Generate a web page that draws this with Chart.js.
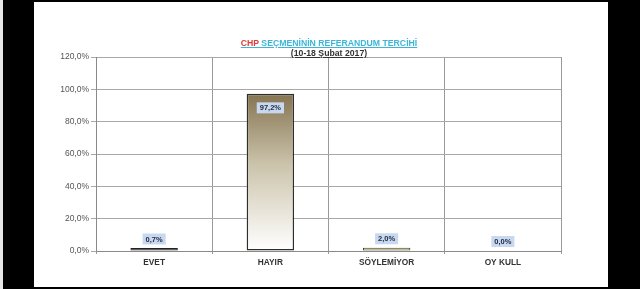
<!DOCTYPE html>
<html>
<head>
<meta charset="utf-8">
<script src="https://cdn.jsdelivr.net/npm/chart.js@4.4.0/dist/chart.umd.min.js"></script>
<style>
  html, body { margin: 0; padding: 0; background: #000; width: 640px; height: 289px; overflow: hidden; }
  #edge { position: absolute; left: 0; top: 0; width: 3px; height: 289px; background: #e8e8e8; }
  #panel { position: absolute; left: 34px; top: 2px; width: 574px; height: 285px; background: #fff; }
  #panel canvas { position: absolute; left: 0; top: 0; }
  .title { position: absolute; left: 0; width: 590px; text-align: center; font-family: "Liberation Sans", Arial, sans-serif; font-weight: bold; text-decoration: underline; white-space: nowrap; }
  #t1 { top: 36px; font-size: 8.7px; color: #3cb6d8; }
  #t1 .red { color: #e03a3c; }
  #t2 { top: 46px; font-size: 8.7px; color: #333; }
</style>
</head>
<body>
<div id="edge"></div>
<div id="panel">
  <canvas id="chartCanvas" width="574" height="285"></canvas>
  <div class="title" id="t1"><span class="red">CHP</span> SEÇMENİNİN REFERANDUM TERCİHİ</div>
  <div class="title" id="t2">(10-18 Şubat 2017)</div>
</div>
<script>
// Chart data
const categories = ['EVET', 'HAYIR', 'SÖYLEMİYOR', 'OY KULL'];
const values = [0.7, 97.2, 2.0, 0.0];
const yTicks = [0, 20, 40, 60, 80, 100, 120];

function pct(v) {
    return v.toFixed(1).replace('.', ',') + '%';
}

// HAYIR bar gets a gradient from olive at the top to white at the bottom
const gradientPlugin = {
    id: 'hayirGradient',
    beforeDatasetsDraw(chart) {
        const bar = chart.getDatasetMeta(0).data[1];
        const g = chart.ctx.createLinearGradient(0, bar.y, 0, bar.base);
        g.addColorStop(0, '#857451');
        g.addColorStop(0.45, '#cbc3ab');
        g.addColorStop(1, '#ffffff');
        bar.options.backgroundColor = g;
    }
};

// Data labels with pale blue box
const labelPlugin = {
    id: 'valueLabels',
    afterDatasetsDraw(chart) {
        const ctx = chart.ctx;
        const meta = chart.getDatasetMeta(0);
        const area = chart.chartArea;
        ctx.save();
        ctx.font = 'bold 7.5px "Liberation Sans", Arial, sans-serif';
        ctx.textAlign = 'center';
        ctx.textBaseline = 'middle';
        meta.data.forEach((bar, i) => {
            const text = pct(values[i]);
            let cy = Math.min(bar.y, bar.base) - 9;
            if (cy < area.top + 30) cy = bar.y + 14;
            if (values[i] === 0) cy = bar.base - 9;
            const w = ctx.measureText(text).width + 6;
            const h = 11;
            ctx.fillStyle = '#c8d9ef';
            ctx.fillRect(bar.x - w / 2, cy - h / 2, w, h);
            ctx.fillStyle = '#1f2740';
            ctx.fillText(text, bar.x, cy + 0.5);
        });
        ctx.restore();
    }
};

const ctx = document.getElementById('chartCanvas').getContext('2d');
const chart = new Chart(ctx, {
    type: 'bar',
    data: {
        labels: categories,
        datasets: [{
            data: values,
            backgroundColor: ['#333333', '#857451', '#ece4a6', 'rgba(0,0,0,0)'],
            borderColor: ['#222222', '#2e2e2e', '#3a3a2a', 'rgba(0,0,0,0)'],
            borderWidth: [1, 1.5, 1, 0],
            borderSkipped: false,
            minBarLength: 3,
            categoryPercentage: 0.8,
            barPercentage: 0.51
        }]
    },
    options: {
        responsive: false,
        animation: false,
        layout: { padding: { left: 0, right: 47, top: 55, bottom: 14 } },
        plugins: {
            legend: { display: false },
            tooltip: { enabled: false },
            title: { display: false }
        },
        scales: {
            x: {
                afterFit: s => { s.height = 22; },
                grid: { color: '#9a9a9a', offset: true, tickLength: 3, lineWidth: 1 },
                border: { color: '#8a8a8a' },
                ticks: {
                    color: '#333',
                    padding: 4,
                    font: { family: '"Liberation Sans", Arial, sans-serif', size: 8.3, weight: 'bold' }
                }
            },
            y: {
                min: 0,
                max: 120,
                afterFit: s => { s.width = 62; },
                afterBuildTicks: s => { s.ticks = yTicks.map(v => ({ value: v })); },
                grid: { color: '#a8a8a8', tickLength: 5, lineWidth: 1 },
                border: { color: '#8a8a8a' },
                ticks: {
                    color: '#555',
                    padding: 2,
                    font: { family: '"Liberation Sans", Arial, sans-serif', size: 8.5 },
                    callback: v => pct(v)
                }
            }
        }
    },
    plugins: [gradientPlugin, labelPlugin]
});
</script>
</body>
</html>
